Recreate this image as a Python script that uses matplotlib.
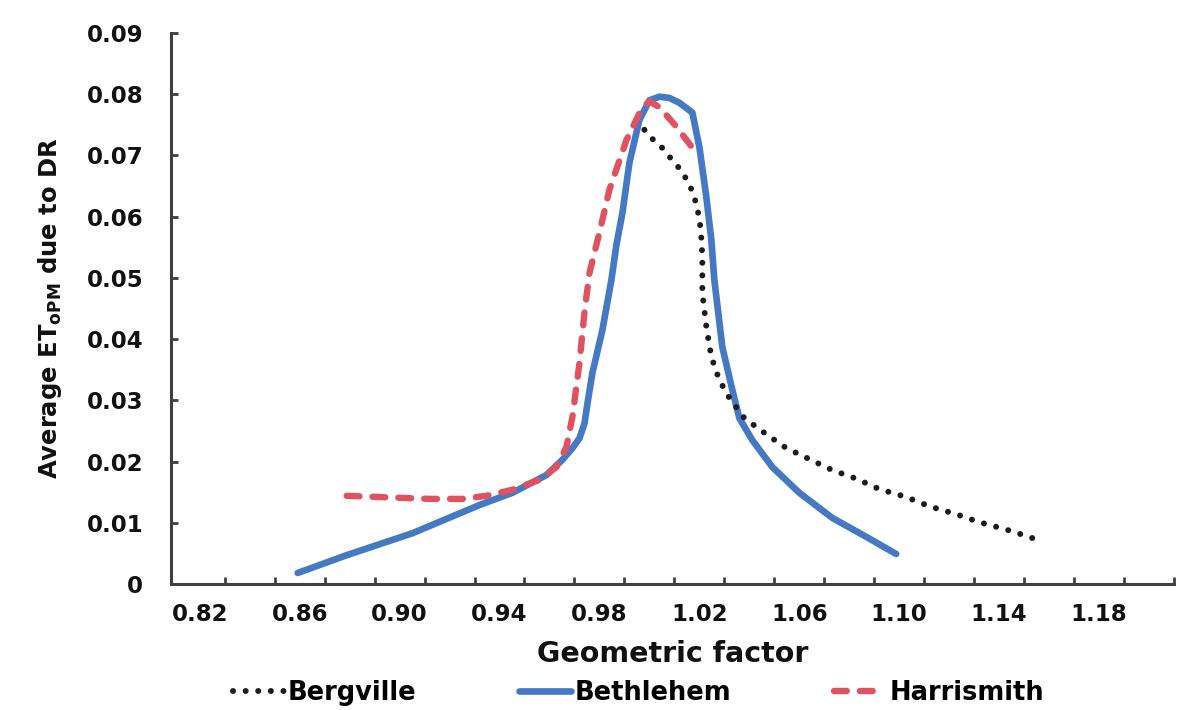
import matplotlib
matplotlib.use("Agg")
import matplotlib.pyplot as plt
from matplotlib.ticker import FixedLocator, FuncFormatter

plt.rcParams["font.family"] = ["DejaVu Sans"]
plt.rcParams["font.weight"] = "bold"
plt.rcParams["mathtext.fontset"] = "dejavusans"

# Geometric factor (x) and average ET_oPM due to diffuse radiation (y)
bethlehem_x = [0.8592, 0.8788, 0.9052, 0.9320, 0.9452, 0.9588, 0.9652, 0.9692,
               0.9720, 0.9740, 0.9756, 0.9772, 0.9812, 0.9848, 0.9868, 0.9892,
               0.9920, 0.9960, 1.0000, 1.0040, 1.0080, 1.0120, 1.0172, 1.0200,
               1.0228, 1.0248, 1.0260, 1.0292, 1.0332, 1.0360, 1.0412, 1.0492,
               1.0600, 1.0732, 1.0868, 1.0988]
bethlehem_y = [0.0018, 0.0047, 0.0083, 0.0129, 0.0149, 0.0178, 0.0203, 0.0222,
               0.0238, 0.0262, 0.0305, 0.0345, 0.0415, 0.0497, 0.0554, 0.0606,
               0.0688, 0.0758, 0.0790, 0.0796, 0.0794, 0.0786, 0.0770, 0.0714,
               0.0632, 0.0562, 0.0497, 0.0387, 0.0317, 0.0271, 0.0235, 0.0191,
               0.0149, 0.0108, 0.0077, 0.0049]

harrismith_x = [0.8788, 0.8920, 0.9120, 0.9252, 0.9348, 0.9452, 0.9560, 0.9628,
                0.9668, 0.9692, 0.9720, 0.9740, 0.9760, 0.9800, 0.9840, 0.9908,
                0.9972, 1.0000, 1.0040, 1.0108, 1.0188]
harrismith_y = [0.0144, 0.0142, 0.0139, 0.0139, 0.0144, 0.0154, 0.0170, 0.0191,
                0.0224, 0.0273, 0.0361, 0.0443, 0.0508, 0.0574, 0.0644, 0.0725,
                0.0779, 0.0788, 0.0779, 0.0747, 0.0704]

bergville_x = [0.9980, 1.0012, 1.0048, 1.0080, 1.0112, 1.0140, 1.0160, 1.0180,
               1.0188, 1.0200, 1.0208, 1.0212, 1.0212, 1.0228, 1.0248, 1.0280,
               1.0320, 1.0380, 1.0460, 1.0548, 1.0640, 1.0732, 1.0828, 1.0920,
               1.1028, 1.1120, 1.1228, 1.1320, 1.1420, 1.1520, 1.1572]
bergville_y = [0.0742, 0.0727, 0.0714, 0.0698, 0.0683, 0.0667, 0.0652, 0.0634,
               0.0616, 0.0600, 0.0565, 0.0534, 0.0475, 0.0420, 0.0371, 0.0333,
               0.0304, 0.0271, 0.0247, 0.0222, 0.0204, 0.0186, 0.0172, 0.0155,
               0.0142, 0.0127, 0.0114, 0.0101, 0.0090, 0.0077, 0.0069]

x_labels = [0.82, 0.86, 0.90, 0.94, 0.98, 1.02, 1.06, 1.10, 1.14, 1.18]
x_tick_marks = [0.83 + 0.02 * i for i in range(20)]
y_ticks = [0.00, 0.01, 0.02, 0.03, 0.04, 0.05, 0.06, 0.07, 0.08, 0.09]

BLUE = "#4579c4"
RED = "#e0525f"
BLACK = "#1c1c1c"
AXIS = "#404040"

fig = plt.figure(figsize=(11.82, 7.10), dpi=100)
ax = fig.add_axes([0.1447, 0.1775, 0.8485, 0.776])

ax.plot(bethlehem_x, bethlehem_y, color=BLUE, lw=4.8, solid_capstyle="round",
        solid_joinstyle="round", label="Bethlehem", zorder=2)
ax.plot(harrismith_x, harrismith_y, color=RED, lw=4.6, dashes=(2.0, 2.05),
        dash_capstyle="round", dash_joinstyle="round", label="Harrismith", zorder=3)
ax.plot(bergville_x, bergville_y, color=BLACK, lw=4.3, dashes=(0.01, 2.1),
        dash_capstyle="round", label="Bergville", zorder=4)

ax.set_xlim(0.8085, 1.21)
ax.set_ylim(0, 0.09)

for side in ("top", "right"):
    ax.spines[side].set_visible(False)
for side in ("left", "bottom"):
    ax.spines[side].set_color(AXIS)
    ax.spines[side].set_linewidth(2.2)

ax.xaxis.set_major_locator(FixedLocator(x_labels))
ax.xaxis.set_minor_locator(FixedLocator(x_tick_marks))
ax.xaxis.set_major_formatter(FuncFormatter(lambda v, p: f"{v:.2f}"))
ax.tick_params(axis="x", which="major", length=0, pad=14, labelsize=16.5,
               labelcolor="#111111")
ax.tick_params(axis="x", which="minor", direction="in", length=5, width=2,
               color=AXIS)

ax.yaxis.set_major_locator(FixedLocator(y_ticks))
ax.yaxis.set_major_formatter(FuncFormatter(lambda v, p: "0" if abs(v) < 1e-9 else f"{v:.2f}"))
ax.tick_params(axis="y", which="major", direction="in", length=5, width=2,
               color=AXIS, pad=20, labelsize=16.5, labelcolor="#111111")

for lbl in ax.get_xticklabels() + ax.get_yticklabels():
    lbl.set_fontweight("bold")

ax.set_xlabel("Geometric factor", fontsize=20.5, fontweight="bold", color="#111111",
              labelpad=10)
ax.set_ylabel(r"Average ET$_{\mathbf{oPM}}$ due to DR", fontsize=17.5,
              fontweight="bold", color="#111111", labelpad=16)

handles, labels = ax.get_legend_handles_labels()
order = [2, 0, 1]
fig.legend([handles[i] for i in order], [labels[i] for i in order],
           loc="center", bbox_to_anchor=(0.540, 0.024), ncol=3, frameon=False,
           prop={"size": 18.5, "weight": "bold"}, handlelength=2.0,
           handletextpad=0.15, columnspacing=4.0, borderaxespad=0)

fig.savefig("out.png", dpi=100, facecolor="white")
